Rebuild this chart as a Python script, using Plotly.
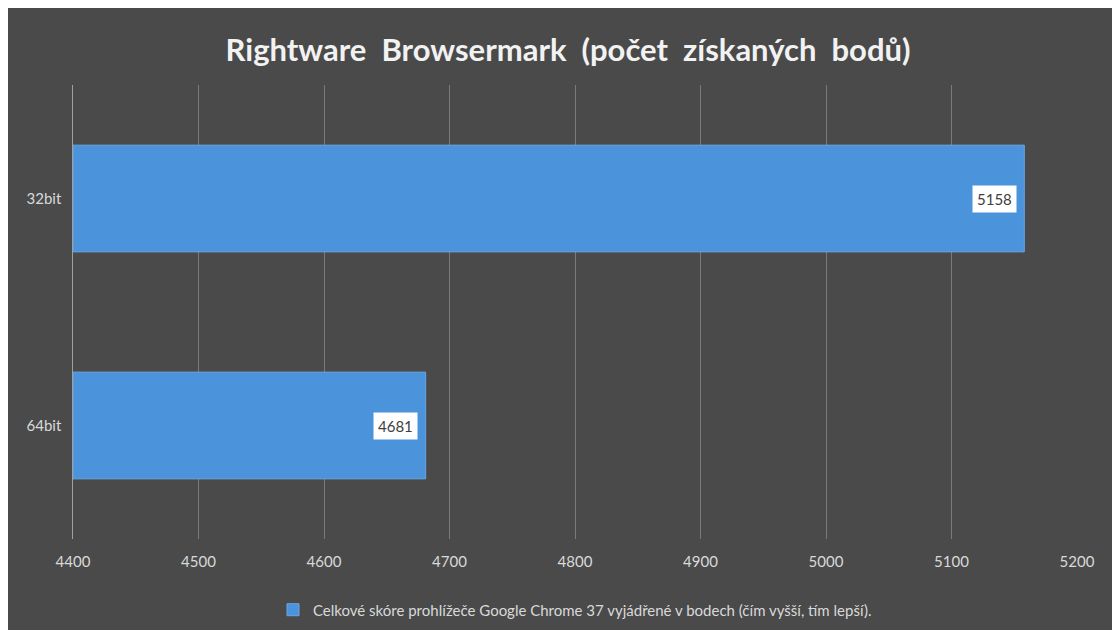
import plotly.graph_objects as go

categories = ['64bit', '32bit']
scores = [4681, 5158]
series_name = 'Celkové skóre prohlížeče Google Chrome 37 vyjádřené v bodech (čím vyšší, tím lepší).'
x_ticks = [4400, 4500, 4600, 4700, 4800, 4900, 5000, 5100, 5200]
axis_start = 4400

fig = go.Figure()
fig.add_trace(go.Bar(
    x=[s - axis_start for s in scores], y=categories, orientation='h', base=axis_start,
    name=series_name,
    marker=dict(color='#4b93db', line=dict(color='#6aa8e6', width=1)),
    showlegend=True,
))

for c, s in zip(categories, scores):
    fig.add_annotation(x=s - 6, y=c, text=str(s), showarrow=False, xanchor='right',
                       bgcolor='white', font=dict(color='#404040', size=15, family='Lato'),
                       borderpad=4)

fig.update_layout(
    width=1120, height=630,
    paper_bgcolor='#4a4a4a', plot_bgcolor='#4a4a4a',
    margin=dict(l=65, r=51, t=77, b=92),
    title=dict(text='<b>Rightware  Browsermark  (počet  získaných  bodů)</b>', x=0.5, y=0.95,
               xanchor='center', font=dict(size=31, color='#f2f2f2', family='Lato')),
    bargap=0.53,
    font=dict(family='Lato', color='#d9d9d9', size=15),
    legend=dict(orientation='h', x=0.5, xanchor='center', y=-0.12, yanchor='top',
                font=dict(size=15, color='#d9d9d9')),
    xaxis=dict(range=[4400, 5200], tickvals=x_ticks, showgrid=True, ticklabelstandoff=12,
               gridcolor='#7a7a7a', zeroline=False, ticks='', showline=False),
    yaxis=dict(showgrid=False, ticks='', ticksuffix='  ', showline=True, linecolor='#a0a0a0'),
)
fig.write_html("out.html")
